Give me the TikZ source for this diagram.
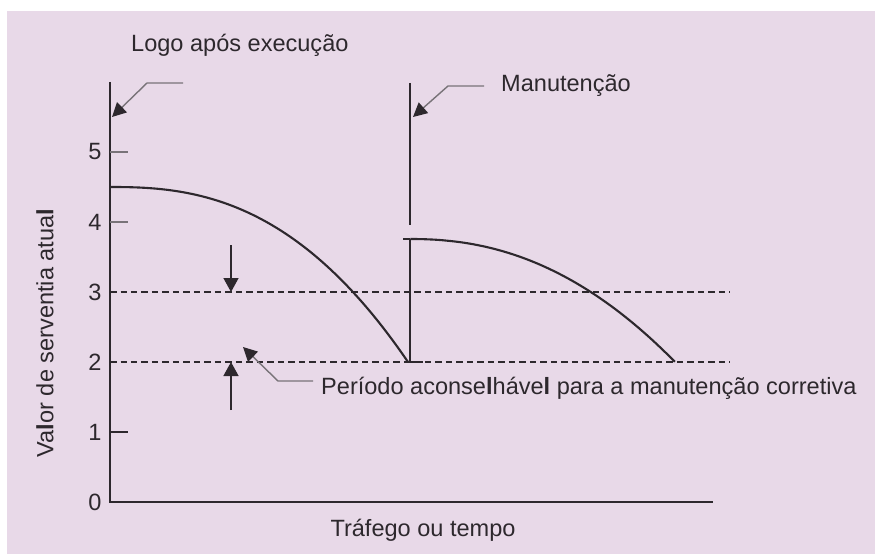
\documentclass[tikz,border=0pt]{standalone}
\usepackage{fontspec}
\setmainfont{Liberation Sans}
\usetikzlibrary{arrows.meta}
\definecolor{bgpink}{RGB}{232,217,232}
\definecolor{ink}{RGB}{45,40,45}
\definecolor{leadgray}{RGB}{120,115,120}

\begin{document}
\begin{tikzpicture}[
    x=0.02cm, y=-0.02cm,
    lbl/.style={font=\fontsize{13.4}{15}\selectfont, text=ink},
    axis/.style={draw=ink, line width=0.9pt},
    curve/.style={draw=ink, line width=1.2pt},
    guide/.style={draw=ink, line width=0.75pt, dash pattern=on 0.13cm off 0.08cm},
    tickmark/.style={draw=leadgray, line width=0.9pt},
    leader/.style={draw=leadgray, line width=0.8pt, -{Triangle[length=0.28cm, width=0.28cm, color=ink]}},
    arrow/.style={draw=ink, line width=0.8pt, -{Triangle[length=0.28cm, width=0.3cm]}}
]
    % Background
    \useasboundingbox (0,0) rectangle (875,554);
    \fill[bgpink] (7,11) rectangle (875,554);
    % Axes
    \coordinate (origin) at (110,502);
    \draw[axis] (110,82) -- (origin) -- (713,502);
    \foreach \v in {0,...,5}
        \node[lbl] (t\v) at (95,{502-70*\v}) {\v};
    \draw[tickmark] (110,152) -- (128,152);
    \draw[tickmark] (110,222) -- (128,222);
    \draw[axis] (110,432) -- (128,432);
    % Guide lines
    \draw[guide] (110,292) -- (730,292);
    \draw[guide] (110,362) -- (730,362);
    % Curves
    \draw[curve] plot[domain=0:1, samples=60] ({110+298*\x},{187+175*\x*\x*sqrt(\x)});
    \draw[curve] plot[domain=0.001:1, samples=60] ({410+265*\x},{239+123*\x^2.2});
    % Maintenance
    \draw[axis] (410,83) -- (410,225);
    \draw[axis] (410,239) -- (410,362);
    \draw[axis] (403,239) -- (410,239);
    \draw[axis, line width=1.3pt] (407,362) -- (423,362);
    % Labels
    \node[lbl, anchor=west] (exec) at (125,45) {Logo após execução};
    \node[lbl, anchor=west] (mant) at (495,86) {Manutenção};
    \node[lbl, anchor=west] (per) at (315,388) {Período aconse\textbf{l}háve\textbf{l} para a manutenção corretiva};
    \node[lbl] (xlab) at (423,530) {Tráfego ou tempo};
    \node[lbl, rotate=90] (ylab) at (45,333) {Va\textbf{l}or de serventia atua\textbf{l}};
    % Leaders
    \coordinate (execend) at (183,83);
    \coordinate (exectip) at (112,117);
    \coordinate (manttip) at (413,117);
    \coordinate (pertip) at (243,347);
    \draw[leader] (execend) -- ++(-36,0) -- (exectip);
    \draw[leader] ([xshift=-0.22cm]mant.west) -- ++(-36,0) -- (manttip);
    \draw[leader] ([shift={(-2,-7)}]per.west) -- (278,381) -- (pertip);
    % Arrows to guides
    \coordinate (upper) at (231,245);
    \coordinate (lower) at (231,410);
    \draw[arrow] (upper) -- (231,292);
    \draw[arrow] (lower) -- (231,362);
\end{tikzpicture}
\end{document}
